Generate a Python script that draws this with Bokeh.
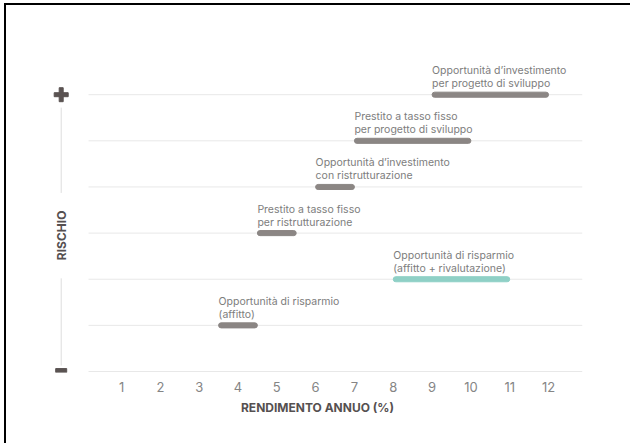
from bokeh.plotting import figure
from bokeh.models import ColumnDataSource, FixedTicker, Range1d
from bokeh.core.properties import value
from bokeh.embed import file_html
from bokeh.resources import INLINE

# ---- data ----
prodotti = [
    "Opportunità di risparmio\n(affitto)",
    "Opportunità di risparmio\n(affitto + rivalutazione)",
    "Prestito a tasso fisso\nper ristrutturazione",
    "Opportunità d’investimento\ncon ristrutturazione",
    "Prestito a tasso fisso\nper progetto di sviluppo",
    "Opportunità d’investimento\nper progetto di sviluppo",
]
rendimento_min = [3.5, 8, 4.5, 6, 7, 9]
rendimento_max = [4.5, 11, 5.5, 7, 10, 12]
rischio = [1, 2, 3, 4, 5, 6]
evidenziato = [False, True, False, False, False, False]
livelli_rischio = [0, 1, 2, 3, 4, 5, 6]
x_ticks = [1, 2, 3, 4, 5, 6, 7, 8, 9, 10, 11, 12]

GRAY = "#8b8684"
TEAL = "#8fd0c6"
FONT = "Inter"

src = ColumnDataSource(dict(
    name=prodotti, x0=rendimento_min, x1=rendimento_max, y=rischio,
    color=[TEAL if e else GRAY for e in evidenziato],
))

W, H = 626, 440
p = figure(width=W, height=H, output_backend="svg", toolbar_location=None,
           x_range=Range1d(-0.778, 12.875), y_range=Range1d(-0.0217, 7.5),
           y_axis_location=None, min_border_left=46, min_border_right=50,
           min_border_top=20, min_border_bottom=73)
p.styles = {"border-left": "2px solid black", "border-top": "2px solid black",
            "margin": "3px 0 0 4px"}
p.outline_line_color = None
p.xgrid.visible = False
p.ygrid.visible = False

# grid lines
p.segment(x0=0.15, x1=12.875, y0=livelli_rischio, y1=livelli_rischio,
          line_color="#e8e8e8", line_width=1)

# bars
p.hbar(y="y", left="x0", right="x1", height=0.11, color="color",
       border_radius=3, source=src)

# labels
p.text(x="x0", y="y", text="name", source=src, text_baseline="bottom",
       text_align="left", y_offset=-4.5, text_font=value(FONT),
       text_font_size="10.5px", text_color="#7d7d7d", text_line_height=1.0)

# risk axis decorations
xd = -0.554
p.rect(x=xd, y=6.0, width=14, height=4, width_units="screen",
       height_units="screen", color="#5a5352")
p.rect(x=xd, y=6.0, width=4, height=14, width_units="screen",
       height_units="screen", color="#5a5352")
p.rect(x=xd, y=0.02, width=11, height=4, width_units="screen",
       height_units="screen", color="#5a5352")
p.segment(x0=[xd, xd], x1=[xd, xd], y0=[5.72, 2.02], y1=[3.87, 0.13],
          line_color="#dddddd", line_width=1)
p.text(x=[xd], y=[2.95], text=["RISCHIO"], angle=1.5708, text_align="center",
       text_baseline="middle", text_font=value(FONT), text_font_style="bold",
       text_font_size="12px", text_color="#555050")

# x axis
ax = p.xaxis[0]
ax.ticker = FixedTicker(ticks=x_ticks)
ax.axis_line_color = None
ax.major_tick_line_color = None
ax.minor_tick_line_color = None
ax.major_label_standoff = 3
ax.major_label_text_font = FONT
ax.major_label_text_font_size = "13px"
ax.major_label_text_color = "#858585"
ax.axis_label = "RENDIMENTO ANNUO (%)"
ax.axis_label_text_font = FONT
ax.axis_label_text_font_style = "bold"
ax.axis_label_text_font_size = "12px"
ax.axis_label_text_color = "#555050"
ax.axis_label_standoff = 5

open("out.html", "w").write(file_html(p, INLINE))
